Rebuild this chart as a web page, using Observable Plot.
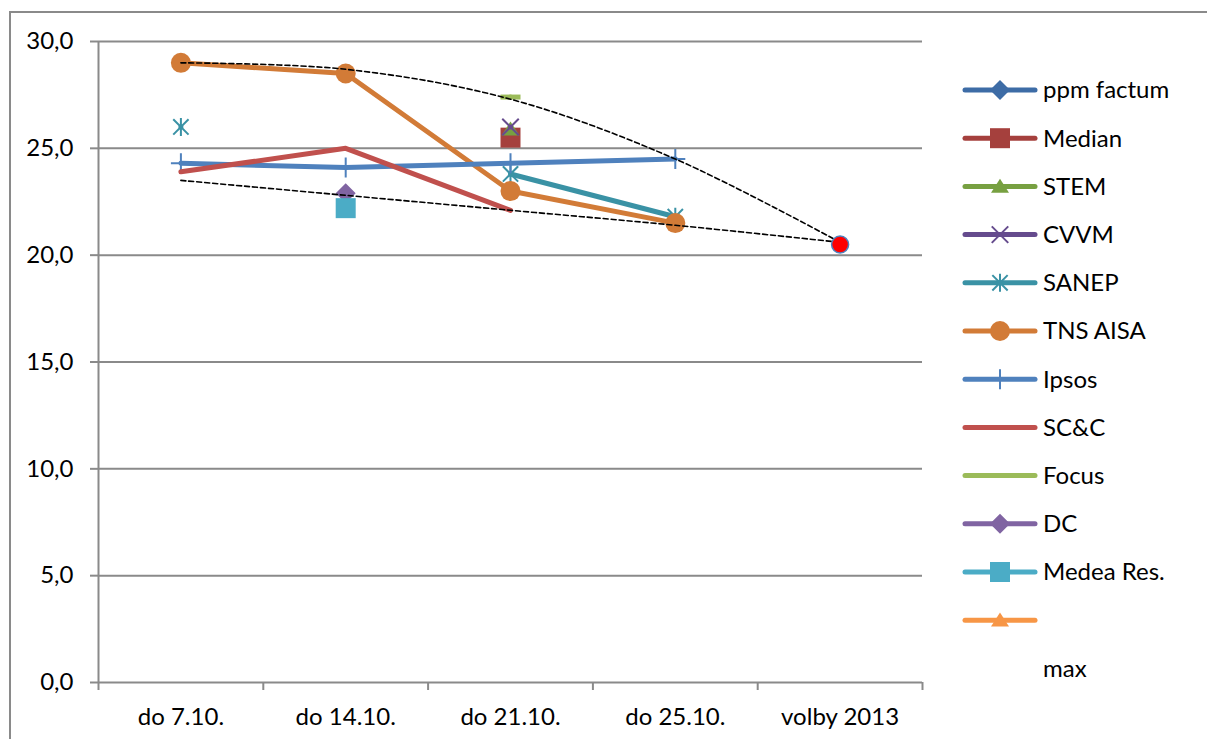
<!DOCTYPE html>
<html>
<head>
<meta charset="utf-8">
<script src="https://cdn.jsdelivr.net/npm/d3@7"></script>
<script src="https://cdn.jsdelivr.net/npm/@observablehq/plot@0.6"></script>
<style>
  html, body { margin: 0; padding: 0; background: #fff; }
  #wrap { position: relative; width: 1207px; height: 739px; overflow: hidden; font-family: Lato, "Noto Sans", sans-serif; }
  #frame { position: absolute; left: 9px; top: 11px; width: 1400px; height: 900px; border: 2px solid #8a8a8a; box-sizing: border-box; }
  #chart { position: absolute; left: 0; top: 0; }
  #legend { position: absolute; left: 0; top: 0; }
</style>
</head>
<body>
<div id="wrap"><div id="frame"></div><div id="chart"></div><svg id="legend" width="1207" height="739"></svg></div>
<script>
// ---- data ----
const categories = ["do 7.10.", "do 14.10.", "do 21.10.", "do 25.10.", "volby 2013"];
const yTicks = [0, 5, 10, 15, 20, 25, 30];
const ppmFactum = [null, null, null, null, null];
const median    = [null, null, 25.5, null, null];
const stem      = [null, null, 25.9, null, null];
const cvvm      = [null, null, 26.0, null, null];
const sanep     = [26.0, null, 23.8, 21.8, null];
const tnsAisa   = [29.0, 28.5, 23.0, 21.5, null];
const ipsos     = [24.3, 24.1, 24.3, 24.5, null];
const scc       = [23.9, 25.0, 22.1, null, null];
const focus     = [null, null, 27.4, null, null];
const dc        = [null, 22.9, null, null, null];
const medea     = [null, 22.2, null, null, null];
const unnamed   = [null, null, null, null, null];
const maxLine   = [29.0, 28.7, 27.3, 24.5, 20.6];
const minLine   = [23.5, 22.8, 22.1, 21.4, 20.6];
const volby     = [null, null, null, null, 20.5];

// ---- custom marker shapes (Excel-like) ----
const R = s => Math.sqrt(s / Math.PI);
const symPlus = {draw(c, s) { const r = R(s); c.moveTo(0, -r); c.lineTo(0, r); c.moveTo(-r, 0); c.lineTo(r, 0); }};
const symTimes = {draw(c, s) { const r = R(s) * 0.75; c.moveTo(-r, -r); c.lineTo(r, r); c.moveTo(-r, r); c.lineTo(r, -r); }};
const symAster = {draw(c, s) { const r = R(s), d = r * 0.85; c.moveTo(0, -r); c.lineTo(0, r); c.moveTo(-d, -d); c.lineTo(d, d); c.moveTo(-d, d); c.lineTo(d, -d); }};
const symDash = {draw(c, s) { const r = R(s); c.moveTo(-r, 0); c.lineTo(r, 0); }};
const symSquare = {draw(c, s) { const r = R(s); c.rect(-r, -r, 2 * r, 2 * r); }};
const symDiamond = {draw(c, s) { const r = R(s); c.moveTo(0, -r); c.lineTo(r, 0); c.lineTo(0, r); c.lineTo(-r, 0); c.closePath(); }};
const symTriangle = {draw(c, s) { const r = R(s); c.moveTo(0, -r * 0.85); c.lineTo(r, r * 0.7); c.lineTo(-r, r * 0.7); c.closePath(); }};
const symCircle = {draw(c, s) { const r = R(s); c.moveTo(r, 0); c.arc(0, 0, r, 0, 2 * Math.PI); }};

// series styling
const series = [
  {name: "ppm factum", values: ppmFactum, color: "#3d6ca6", sym: symDiamond, r: 10, filled: true},
  {name: "Median", values: median, color: "#a5403d", sym: symSquare, r: 10, filled: true},
  {name: "STEM", values: stem, color: "#77a041", sym: symTriangle, r: 9, filled: true},
  {name: "CVVM", values: cvvm, color: "#654b8d", sym: symTimes, r: 11, filled: false},
  {name: "SANEP", values: sanep, color: "#3a92a5", sym: symAster, r: 9, filled: false},
  {name: "TNS AISA", values: tnsAisa, color: "#d27b37", sym: symCircle, r: 10, filled: true},
  {name: "Ipsos", values: ipsos, color: "#4f81bd", sym: symPlus, r: 10, filled: false},
  {name: "SC&C", values: scc, color: "#c0504d", sym: null},
  {name: "Focus", values: focus, color: "#9bbb59", sym: symDash, r: 10, filled: false, sw: 5},
  {name: "DC", values: dc, color: "#8064a2", sym: symDiamond, r: 10, filled: true},
  {name: "Medea Res.", values: medea, color: "#4bacc6", sym: symSquare, r: 10, filled: true},
  {name: "", values: unnamed, color: "#f79646", sym: symTriangle, r: 9, filled: true},
  {name: "max", values: maxLine, color: "#000", sym: null, dashed: true, noLegendLine: true}
];

const rows = vals => vals.map((v, i) => ({x: i, y: v}));
const fmt = d => d.toFixed(1).replace(".", ",");
const gray = "#8a8a8a";
const boundaries = d3.range(-0.5, categories.length, 1);

const marks = [
  Plot.ruleY(yTicks, {y: d => d, x1: -0.5, x2: categories.length - 0.5, stroke: gray, strokeWidth: 2}),
  Plot.ruleX([-0.5], {y1: 0, y2: 30, stroke: gray, strokeWidth: 2}),
  Plot.axisY({ticks: yTicks, tickSize: 8, tickPadding: 17, tickFormat: fmt, stroke: gray, strokeWidth: 2, fontSize: 24, label: null}),
  Plot.axisX({ticks: boundaries, tickSize: 8, tickFormat: () => "", stroke: gray, strokeWidth: 2, label: null}),
  Plot.axisX({ticks: d3.range(categories.length), tickSize: 0, tickPadding: 25, tickFormat: i => categories[i], fontSize: 24, label: null})
];

for (const s of series) {
  if (s.dashed) continue;
  marks.push(Plot.line(rows(s.values), {x: "x", y: "y", stroke: s.color, strokeWidth: 5, strokeLinejoin: "round", strokeLinecap: "round"}));
  if (s.sym) {
    const pts = rows(s.values).filter(d => d.y != null);
    marks.push(Plot.dot(pts, {x: "x", y: "y", r: s.r, symbol: s.sym,
      fill: s.filled ? s.color : "none", stroke: s.color, strokeWidth: s.sw || (s.filled ? 0 : 2)}));
  }
}
// dashed envelope lines (smoothed)
for (const vals of [maxLine, minLine]) {
  marks.push(Plot.line(rows(vals), {x: "x", y: "y", stroke: "#000", strokeWidth: 1.6, strokeDasharray: "5,3", curve: "catmull-rom"}));
}
// election result
marks.push(Plot.dot(rows(volby).filter(d => d.y != null), {x: "x", y: "y", r: 8.5, fill: "#ff0000", stroke: "#4f81bd", strokeWidth: 1.5}));

const chart = Plot.plot({
  width: 1207, height: 739,
  marginLeft: 98, marginRight: 285, marginTop: 41, marginBottom: 57,
  style: {fontFamily: "Lato, 'Noto Sans', sans-serif", background: "transparent", overflow: "visible"},
  x: {type: "linear", domain: [-0.5, categories.length - 0.5], axis: null},
  y: {domain: [0, 30], axis: null},
  marks
});
document.getElementById("chart").appendChild(chart);

// ---- legend ----
const lg = d3.select("#legend");
const lx0 = 965, lx1 = 1035, ltx = 1043, ly0 = 90, lstep = 48.2;
series.forEach((s, i) => {
  const y = ly0 + i * lstep;
  const g = lg.append("g").attr("transform", `translate(0,${y})`);
  if (!s.noLegendLine) {
    g.append("line").attr("x1", lx0).attr("x2", lx1).attr("y1", 0).attr("y2", 0)
      .attr("stroke", s.color).attr("stroke-width", 5).attr("stroke-linecap", "round");
  }
  if (s.sym && s.name !== "Focus") {
    g.append("path").attr("transform", `translate(${(lx0 + lx1) / 2},0)`)
      .attr("d", d3.symbol(s.sym, s.r * s.r * Math.PI)())
      .attr("fill", s.filled ? s.color : "none").attr("stroke", s.color)
      .attr("stroke-width", s.filled ? 0 : 2);
  }
  g.append("text").attr("x", ltx).attr("y", 0).attr("dy", "0.35em")
    .attr("font-size", 24).attr("font-family", "Lato, 'Noto Sans', sans-serif").attr("fill", "#000")
    .text(s.name);
});
</script>
</body>
</html>
